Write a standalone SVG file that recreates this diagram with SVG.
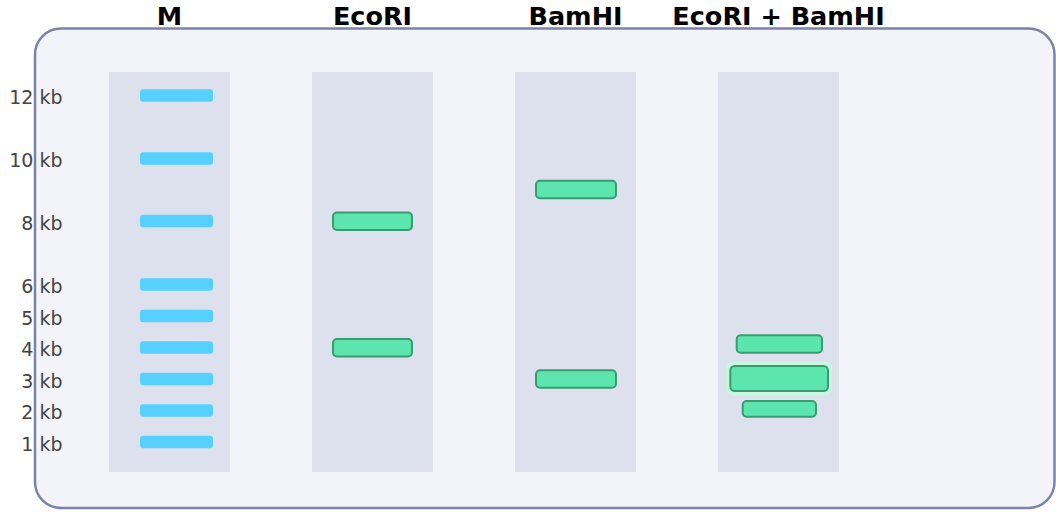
<svg xmlns="http://www.w3.org/2000/svg" width="1056" height="512" viewBox="0 0 1056 512">
<style>
.title{font-family:"DejaVu Sans",sans-serif;font-weight:bold;font-size:25.5px;fill:#000;text-anchor:middle}
.lbl{font-family:"DejaVu Sans",sans-serif;font-size:19px;fill:#444;text-anchor:end}
.lane{fill:#dce1ed}
.mk{fill:#55d0ff}
.bd{fill:#5ce6ae;stroke:#3a9a72;stroke-width:2}
</style>
<rect x="35" y="28.5" width="1019.5" height="479.5" rx="26" fill="#f2f4f9" stroke="#7a84a8" stroke-width="2.5"/>
<g id="lane-M">
<text class="title" x="169.5" y="25">M</text>
<rect class="lane" x="109" y="72" width="121" height="400"/>
<rect class="mk" x="140" y="89.3" width="73" height="12.5" rx="3"/>
<rect class="mk" x="140" y="152.3" width="73" height="12.5" rx="3"/>
<rect class="mk" x="140" y="214.8" width="73" height="12.5" rx="3"/>
<rect class="mk" x="140" y="278.3" width="73" height="12.5" rx="3"/>
<rect class="mk" x="140" y="309.8" width="73" height="12.5" rx="3"/>
<rect class="mk" x="140" y="341.3" width="73" height="12.5" rx="3"/>
<rect class="mk" x="140" y="372.8" width="73" height="12.5" rx="3"/>
<rect class="mk" x="140" y="404.3" width="73" height="12.5" rx="3"/>
<rect class="mk" x="140" y="435.8" width="73" height="12.5" rx="3"/>
</g>
<g id="labels">
<text class="lbl" x="62.5" y="104">12 kb</text>
<text class="lbl" x="62.5" y="167">10 kb</text>
<text class="lbl" x="62.5" y="229.5">8 kb</text>
<text class="lbl" x="62.5" y="293">6 kb</text>
<text class="lbl" x="62.5" y="324.5">5 kb</text>
<text class="lbl" x="62.5" y="356">4 kb</text>
<text class="lbl" x="62.5" y="387.5">3 kb</text>
<text class="lbl" x="62.5" y="419">2 kb</text>
<text class="lbl" x="62.5" y="450.5">1 kb</text>
</g>
<g id="lane-EcoRI">
<text class="title" x="372.5" y="25">EcoRI</text>
<rect class="lane" x="312" y="72" width="121" height="400"/>
<rect class="bd" x="333" y="212.5" width="79" height="17.5" rx="4"/>
<rect class="bd" x="333" y="339" width="79" height="17.5" rx="4"/>
</g>
<g id="lane-BamHI">
<text class="title" x="575.5" y="25">BamHI</text>
<rect class="lane" x="515" y="72" width="121" height="400"/>
<rect class="bd" x="536" y="180.7" width="80" height="17.5" rx="4"/>
<rect class="bd" x="536" y="370.2" width="80" height="17.5" rx="4"/>
</g>
<g id="lane-EcoRI-BamHI">
<text class="title" x="778.5" y="25">EcoRI + BamHI</text>
<rect class="lane" x="718" y="72" width="121" height="400"/>
<rect class="bd" x="736.7" y="335.3" width="85.3" height="17.5" rx="4"/>
<rect x="726" y="361.5" width="106" height="34" rx="7" fill="#c8f7e0"/>
<rect class="bd" x="730.3" y="366" width="97.7" height="25" rx="4.5"/>
<rect class="bd" x="742.7" y="401" width="73.3" height="15.8" rx="4"/>
</g>
</svg>
